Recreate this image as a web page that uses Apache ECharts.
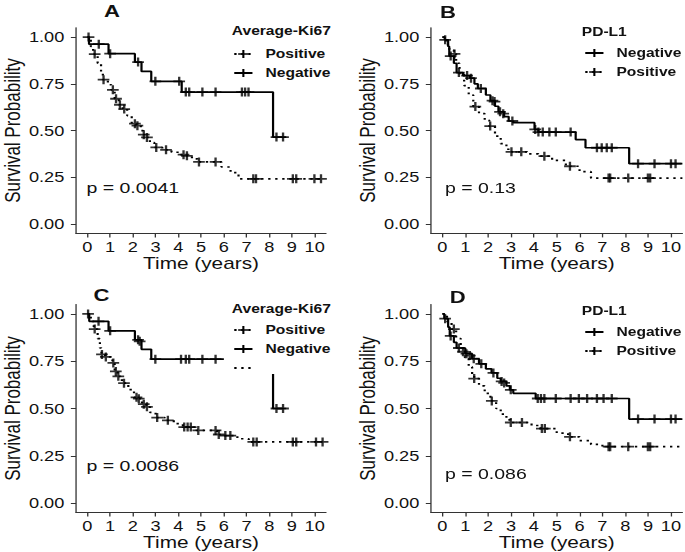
<!DOCTYPE html>
<html><head><meta charset="utf-8">
<script src="https://cdn.jsdelivr.net/npm/echarts@6/dist/echarts.min.js"></script>
<style>
html,body{margin:0;padding:0;background:#fff;overflow:hidden;}
#wrap{width:685px;height:552px;overflow:hidden;}
#chart{height:552px;transform-origin:0 0;}
</style></head>
<body><div id="wrap"><div id="chart"></div></div>
<script>
// ---------- data ----------
const xTicks = [0,1,2,3,4,5,6,7,8,9,10];
const yTicks = [0,0.25,0.5,0.75,1];
const panelLetters = ['A','B','C','D'];
const legendTitles = ['Average-Ki67','PD-L1','Average-Ki67','PD-L1'];
const pValues = ['p = 0.0041','p = 0.13','p = 0.0086','p = 0.086'];

// Panel A (Average-Ki67)
const A_negSteps = [[0,1],[0.07,0.962],[0.93,0.911],[2.09,0.866],[2.38,0.816],[2.81,0.763],[4.15,0.706],[8.17,0.465],[8.75,0.465]];
const A_negCens = [[0.05,1],[0.5,0.962],[1.0,0.911],[2.23,0.866],[2.99,0.763],[4.04,0.763],[4.33,0.706],[4.48,0.706],[5.06,0.706],[5.64,0.706],[6.8,0.706],[6.94,0.706],[7.09,0.706],[8.32,0.465],[8.61,0.465]];
const A_posSteps = [[0,1],[0.15,0.95],[0.25,0.909],[0.45,0.86],[0.6,0.81],[0.68,0.772],[0.9,0.745],[1.05,0.718],[1.2,0.67],[1.38,0.638],[1.55,0.615],[1.75,0.58],[1.95,0.537],[2.15,0.526],[2.35,0.5],[2.45,0.478],[2.58,0.463],[2.75,0.435],[2.95,0.41],[3.3,0.397],[3.7,0.384],[4.1,0.371],[4.35,0.365],[4.6,0.348],[4.85,0.332],[5.9,0.305],[6.3,0.275],[6.65,0.242],[10.3,0.242]];
const A_posCens = [[0.32,0.909],[0.71,0.772],[1.12,0.718],[1.26,0.67],[1.43,0.638],[1.62,0.615],[2.09,0.537],[2.2,0.526],[2.48,0.478],[2.62,0.463],[3.03,0.41],[3.46,0.397],[4.23,0.371],[4.38,0.365],[4.91,0.332],[5.64,0.332],[7.3,0.242],[7.42,0.242],[9.04,0.242],[9.19,0.242],[9.99,0.242],[10.28,0.242]];

// Panel B (PD-L1)
const B_negSteps = [[0,1],[0.1,0.985],[0.25,0.95],[0.3,0.898],[0.5,0.86],[0.62,0.81],[0.9,0.794],[1.2,0.78],[1.4,0.75],[1.55,0.725],[1.9,0.69],[2.1,0.66],[2.3,0.63],[2.45,0.6],[2.7,0.575],[2.9,0.551],[3.1,0.542],[4.03,0.506],[4.2,0.492],[5.83,0.452],[6.26,0.408],[8.17,0.323],[10.5,0.323]];
const B_negCens = [[0.12,0.985],[0.36,0.898],[0.72,0.81],[1.08,0.794],[1.25,0.78],[1.68,0.725],[2.19,0.66],[2.28,0.655],[2.52,0.6],[2.66,0.59],[3.06,0.551],[4.06,0.506],[4.2,0.492],[4.39,0.492],[4.68,0.492],[4.96,0.492],[5.61,0.492],[6.76,0.408],[6.97,0.408],[7.19,0.408],[7.41,0.408],[8.56,0.323],[9.28,0.323],[10.0,0.323],[10.2,0.323]];
const B_posSteps = [[0,1],[0.15,0.96],[0.3,0.93],[0.5,0.91],[0.6,0.86],[0.75,0.8],[0.95,0.74],[1.15,0.69],[1.35,0.628],[1.6,0.59],[1.85,0.555],[2.05,0.524],[2.3,0.47],[2.55,0.43],[2.8,0.4],[2.98,0.386],[3.7,0.375],[4.2,0.363],[4.8,0.34],[5.4,0.309],[6.0,0.28],[6.5,0.246],[10.5,0.246]];
const B_posCens = [[0.53,0.91],[1.44,0.628],[2.09,0.524],[3.02,0.386],[3.45,0.386],[4.46,0.363],[5.58,0.309],[7.27,0.246],[7.34,0.246],[8.13,0.246],[8.99,0.246],[9.09,0.246]];

// Panel C (Average-Ki67)
const C_negSteps = [[0,1],[0.08,0.961],[0.93,0.911],[2.09,0.863],[2.38,0.813],[2.81,0.761],[8.17,0.5],[8.75,0.5]];
const C_negCens = [[0.03,1],[0.49,0.961],[1.0,0.911],[2.23,0.863],[2.3,0.855],[2.99,0.761],[4.12,0.761],[4.33,0.761],[4.48,0.761],[5.06,0.761],[5.64,0.761],[8.32,0.5],[8.61,0.5]];
const C_posSteps = [[0,1],[0.15,0.96],[0.28,0.92],[0.45,0.87],[0.55,0.82],[0.62,0.786],[0.78,0.773],[1.1,0.741],[1.2,0.696],[1.33,0.67],[1.45,0.65],[1.58,0.634],[1.8,0.6],[2.05,0.559],[2.2,0.552],[2.4,0.523],[2.58,0.509],[2.75,0.48],[3.0,0.452],[3.4,0.4375],[3.8,0.42],[4.2,0.402],[4.8,0.384],[5.7,0.3625],[5.95,0.357],[6.6,0.34],[7.1,0.323],[10.35,0.323]];
const C_posCens = [[0.32,0.92],[0.64,0.786],[0.81,0.773],[1.14,0.741],[1.25,0.696],[1.36,0.67],[1.61,0.634],[2.16,0.559],[2.26,0.552],[2.48,0.523],[2.62,0.509],[3.07,0.452],[3.54,0.4375],[4.26,0.402],[4.41,0.402],[4.55,0.402],[4.88,0.384],[5.64,0.384],[5.78,0.3625],[6.07,0.357],[6.29,0.357],[7.3,0.323],[7.45,0.323],[9.04,0.323],[9.19,0.323],[10.06,0.323],[10.35,0.323]];

// Panel D (PD-L1)
const D_negSteps = [[0,1],[0.08,0.975],[0.25,0.93],[0.32,0.884],[0.5,0.85],[0.62,0.82],[1.0,0.79],[1.3,0.763],[1.6,0.736],[1.9,0.71],[2.15,0.688],[2.4,0.66],[2.55,0.643],[2.8,0.62],[2.95,0.599],[3.1,0.58],[4.08,0.553],[8.17,0.444],[10.5,0.444]];
const D_negCens = [[0.12,0.975],[0.36,0.884],[0.72,0.82],[0.9,0.8],[1.05,0.79],[1.2,0.78],[1.37,0.763],[1.7,0.736],[2.23,0.688],[2.59,0.643],[2.7,0.635],[2.99,0.599],[4.17,0.553],[4.31,0.553],[4.46,0.553],[4.96,0.553],[5.61,0.553],[5.97,0.553],[6.33,0.553],[6.76,0.553],[7.05,0.553],[7.41,0.553],[8.56,0.444],[9.28,0.444],[10.0,0.444],[10.2,0.444]];
const D_posSteps = [[0,1],[0.2,0.96],[0.4,0.92],[0.6,0.87],[0.8,0.82],[0.98,0.77],[1.15,0.72],[1.3,0.68],[1.39,0.658],[1.6,0.62],[1.85,0.58],[2.1,0.54],[2.35,0.5],[2.55,0.47],[2.8,0.44],[2.98,0.426],[3.9,0.41],[4.3,0.394],[5.0,0.37],[5.5,0.35],[6.0,0.33],[6.5,0.31],[7.0,0.298],[10.5,0.298]];
const D_posCens = [[0.5,0.92],[1.39,0.658],[2.16,0.54],[2.99,0.426],[3.48,0.426],[4.35,0.394],[4.48,0.394],[5.58,0.35],[7.27,0.298],[7.34,0.298],[8.13,0.298],[8.99,0.298],[9.09,0.298]];

// ---------- layout ----------
const S = 1.3;                 // horizontal stretch of the original figure
const W = 685 / S;
const FONT = '"Liberation Sans", Arial, Helvetica, sans-serif';
const PLUS = 'path://M4,0H6V4H10V6H6V10H4V6H0V4H4Z';
const DOT = [1.8, 3.6];

const grids = [
  {left: 72/S, top: 27.7, width: 254/S, height: 205.7},
  {left: 431/S, top: 27.7, width: 254/S, height: 205.7},
  {left: 72/S, top: 304.5, width: 254/S, height: 208},
  {left: 431/S, top: 304.5, width: 254/S, height: 208}
];

document.getElementById('chart').style.width = W + 'px';
document.getElementById('chart').style.transform = 'scaleX(' + S + ')';

const axisCommon = {
  axisLine: {show: true, onZero: false, lineStyle: {color: '#333', width: 1}},
  axisTick: {show: true, length: 4, lineStyle: {color: '#333', width: 1}},
  splitLine: {show: false}
};

const xAxes = grids.map((g, i) => Object.assign({}, axisCommon, {
  type: 'value', gridIndex: i, min: -0.5, max: 10.5,
  axisTick: Object.assign({}, axisCommon.axisTick, {customValues: xTicks}),
  axisLabel: {customValues: xTicks, margin: 6, fontSize: 14, color: '#111', fontFamily: FONT},
  name: 'Time (years)', nameLocation: 'middle', nameGap: 22,
  nameTextStyle: {fontSize: 16, color: '#111', fontFamily: FONT}
}));
const yAxes = grids.map((g, i) => Object.assign({}, axisCommon, {
  type: 'value', gridIndex: i, min: -0.05, max: 1.05,
  axisTick: Object.assign({}, axisCommon.axisTick, {customValues: yTicks}),
  axisLabel: {customValues: yTicks, margin: 9, fontSize: 14, color: '#111', fontFamily: FONT,
              formatter: v => Number(v).toFixed(2)},
  name: 'Survival Probability', nameLocation: 'middle', nameGap: 40.5,
  nameTextStyle: {fontSize: 17, color: '#111', fontFamily: FONT}
}));

function stepLine(name, idx, data, dotted) {
  return {type: 'line', name: name, xAxisIndex: idx, yAxisIndex: idx, data: data,
    step: 'end', showSymbol: false, symbol: PLUS, symbolSize: 9, silent: true, z: 3,
    lineStyle: {color: '#000', width: dotted ? 1.7 : 1.7, type: dotted ? DOT : 'solid'},
    itemStyle: {color: '#000'}};
}
function censors(name, idx, data) {
  return {type: 'scatter', name: name, xAxisIndex: idx, yAxisIndex: idx, data: data,
    symbol: PLUS, symbolSize: 9, silent: true, z: 4, itemStyle: {color: '#000'}};
}

const panels = [
  [A_negSteps, A_negCens, A_posSteps, A_posCens],
  [B_negSteps, B_negCens, B_posSteps, B_posCens],
  [C_negSteps, C_negCens, C_posSteps, C_posCens],
  [D_negSteps, D_negCens, D_posSteps, D_posCens]
];
const series = [];
panels.forEach((p, i) => {
  series.push(stepLine('Positive', i, p[2], true));
  series.push(stepLine('Negative', i, p[0], false));
});
// stray legend key visible in panel C
series.push({type: 'line', name: '\u00a0', xAxisIndex: 2, yAxisIndex: 2, data: [],
  symbol: 'none', lineStyle: {color: '#000', width: 1.5, type: DOT}, itemStyle: {color: 'rgba(0,0,0,0)'}});
panels.forEach((p, i) => {
  series.push(censors('Positive', i, p[3]));
  series.push(censors('Negative', i, p[1]));
});

const legendText = {fontSize: 12, fontWeight: 'bold', lineHeight: 12, color: '#111', fontFamily: FONT, padding: [0,0,0,5]};
function legend(left, top, data) {
  return {orient: 'vertical', left: left, top: top, itemWidth: 14, itemHeight: 10, itemGap: 7,
    padding: [0, 4, 0, 7], backgroundColor: '#fff', selectedMode: false,
    textStyle: legendText, data: data};
}
const legends = [
  legend(172.2, 48, ['Positive','Negative']),
  legend(442.2, 47, ['Negative','Positive']),
  legend(172.2, 324, ['Positive','Negative','\u00a0']),
  legend(442.2, 326, ['Negative','Positive'])
];

function txt(text, left, top, size, bold) {
  return {text: text, left: left, top: top, padding: 0,
    textStyle: {fontSize: size, fontWeight: bold ? 'bold' : 'normal', color: '#111', fontFamily: FONT}};
}
const titles = [
  txt(panelLetters[0], 80, 2, 17, true),
  txt(panelLetters[1], 338.5, 3, 17, true),
  txt(panelLetters[2], 72, 286, 17, true),
  txt(panelLetters[3], 346, 288, 17, true),
  txt(legendTitles[0], 178.3, 25, 12, true),
  txt(legendTitles[1], 447.5, 26, 12, true),
  txt(legendTitles[2], 178.3, 303, 12, true),
  txt(legendTitles[3], 447.5, 305, 12, true),
  txt(pValues[0], 66.5, 180, 15, false),
  txt(pValues[1], 342.3, 180, 15, false),
  txt(pValues[2], 66.5, 458, 15, false),
  txt(pValues[3], 342.3, 466, 15, false)
];

const chart = echarts.init(document.getElementById('chart'), null, {renderer: 'svg', width: W, height: 552});
chart.setOption({
  animation: false,
  backgroundColor: '#fff',
  color: ['#000'],
  title: titles,
  grid: grids,
  xAxis: xAxes,
  yAxis: yAxes,
  legend: legends,
  series: series
});
</script>
</body></html>
